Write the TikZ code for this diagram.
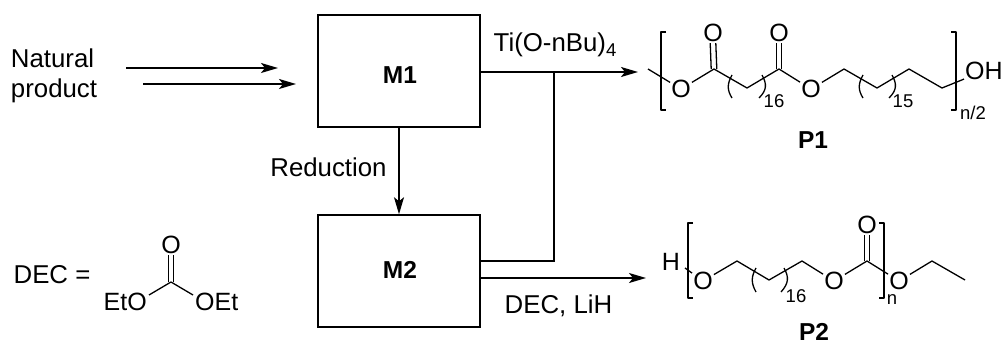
\documentclass[tikz,border=0pt]{standalone}
\usepackage{fontspec}
\setmainfont{Liberation Sans}
\usetikzlibrary{arrows.meta,calc}
\newcommand{\lowfour}{\raisebox{-5pt}{\fontsize{18.5}{21}\selectfont 4}}
\tikzset{
  lbl/.style={font=\fontsize{25.8}{30}\selectfont,inner sep=0pt},
  atom/.style={font=\fontsize{25}{28}\selectfont,inner sep=1pt},
  subs/.style={font=\fontsize{18.5}{21}\selectfont,inner sep=0pt},
  title/.style={font=\fontsize{24.5}{28}\selectfont\bfseries,inner sep=0pt},
  unit/.style={draw=black,line width=1.5pt,minimum width=162pt,minimum height=112pt},
  flow/.style={line width=1.6pt,black,-{Stealth[length=17pt,width=10pt,inset=4pt]}},
  feed/.style={line width=2pt,black},
  bond/.style={line width=1.3pt,black,line join=round},
  paren/.style={line width=1.3pt,black},
}
\begin{document}
\begin{tikzpicture}[x=1pt,y=-1pt]
    \useasboundingbox (0,0) rectangle (1003,342);
    % --- left: feed and DEC ---
    \node[lbl,align=left] (nat) at (54,76) {Natural\\product};
    \coordinate (a1) at (126,68);
    \coordinate (a2) at (278,68);
    \coordinate (b1) at (143,84);
    \coordinate (b2) at (296,84);
    \draw[flow] (a1) -- (a2);
    \draw[flow] (b1) -- (b2);
    \node[lbl] (dec) at (52,275) {DEC =};
    \coordinate (dc) at (171,282);
    \node[atom] (do) at (171,245) {O};
    \node[atom,anchor=east] (del) at (148,302) {EtO};
    \node[atom,anchor=west] (der) at (194,302) {OEt};
    \draw[bond] ([xshift=-2.8pt]dc) -- ([xshift=-2.8pt]do.south);
    \draw[bond] ([xshift=2.8pt]dc) -- ([xshift=2.8pt]do.south);
    \draw[bond] (dc) -- (149,295);
    \draw[bond] (dc) -- (193,295);
    % --- middle: the two monomer boxes ---
    \node[unit] (m1) at (399,71) {};
    \node[title] (m1t) at (400,75) {M1};
    \node[unit] (m2) at (399,271) {};
    \node[title] (m2t) at (400,270) {M2};
    \draw[flow] (m1) -- (m2);
    \node[lbl] (red) at (328.5,167) {Reduction};
    \node[lbl] (tib) at (555,45) {Ti(O-nBu)\lowfour};
    \node[lbl] (lih) at (558.5,306) {DEC, LiH};
    \coordinate (j1) at (554,72);
    \coordinate (j2) at (554,261);
    \coordinate (p1in) at (638,72);
    \coordinate (p2in) at (646,278);
    \draw[feed] (m1.east |- j1) -- (j1);
    \draw[flow,line width=2pt] (j1) -- (p1in);
    \draw[feed] (j1) -- (j2) -- (m2.east |- j2);
    \draw[flow] (m2.east |- p2in) -- (p2in);
    % --- top right: P1 ---
    \begin{scope}[shift={(640,0)}]
      \coordinate (s1) at (8,69);
      \node[atom] (o1) at (41,89) {O};
      \coordinate (c1) at (74,69);
      \node[atom] (o2) at (73,33) {O};
      \coordinate (c2) at (107,88);
      \coordinate (c3) at (139,69);
      \node[atom] (o3) at (139,33) {O};
      \node[atom] (o4) at (171,89) {O};
      \coordinate (c4) at (204,69);
      \coordinate (c5) at (237,88);
      \coordinate (c6) at (269,69);
      \coordinate (c7) at (302,88);
      \node[atom,anchor=west] (oh) at (324,71) {OH};
      \draw[bond] (s1) -- (o1) -- (c1) -- (c2) -- (c3) -- (o4) -- (c4) -- (c5) -- (c6) -- (c7) -- (oh);
      \foreach \c/\o in {c1/o2,c3/o3} {
        \draw[bond] ([xshift=-2.8pt]\c) -- ([xshift=-2.8pt]\o.south);
        \draw[bond] ([xshift=2.8pt]\c) -- ([xshift=2.8pt]\o.south);
      }
      \foreach \x in {92,223} \draw[paren] (\x,75) .. controls (\x-5,84) and (\x-5,90) .. (\x,98);
      \foreach \x in {122,252} \draw[paren] (\x,75) .. controls (\x+5,84) and (\x+5,90) .. (\x-3,98);
      \draw[bond] (26,32) -- (21,32) -- (21,110) -- (26,110);
      \draw[bond] (311,32) -- (316,32) -- (316,110) -- (311,110);
      \node[subs] (n16a) at (134,101) {16};
      \node[subs] (n15) at (263,101) {15};
      \node[subs] (n2) at (333,113) {n/2};
      \node[title] (p1) at (173,140) {P1};
    \end{scope}
    % --- bottom right: P2 ---
    \begin{scope}[shift={(640,200)}]
      \node[atom] (h) at (31,62) {H};
      \coordinate (s2) at (45,68);
      \node[atom] (o5) at (63,81) {O};
      \coordinate (d1) at (97,61);
      \coordinate (d2) at (129,80);
      \coordinate (d3) at (162,61);
      \node[atom] (o6) at (194,81) {O};
      \coordinate (d4) at (227,61);
      \node[atom] (o7) at (227,25) {O};
      \node[atom] (o8) at (259,81) {O};
      \coordinate (d5) at (292,61);
      \coordinate (d6) at (325,80);
      \draw[bond] (s2) -- (o5) -- (d1) -- (d2) -- (d3) -- (o6) -- (d4) -- (o8) -- (d5) -- (d6);
      \draw[bond] ([xshift=-2.8pt]d4) -- ([xshift=-2.8pt]o7.south);
      \draw[bond] ([xshift=2.8pt]d4) -- ([xshift=2.8pt]o7.south);
      \draw[paren] (116,68) .. controls (111,77) and (111,83) .. (116,92);
      \draw[paren] (144,68) .. controls (149,77) and (149,83) .. (141,92);
      \draw[bond] (53,23) -- (48,23) -- (48,98) -- (53,98);
      \draw[bond] (239,23) -- (244,23) -- (244,98) -- (239,98);
      \node[subs] (n16b) at (156,96) {16};
      \node[subs] (n1) at (252,100) {n};
      \node[title] (p2) at (174,131.5) {P2};
    \end{scope}
  \end{tikzpicture}
\end{document}
